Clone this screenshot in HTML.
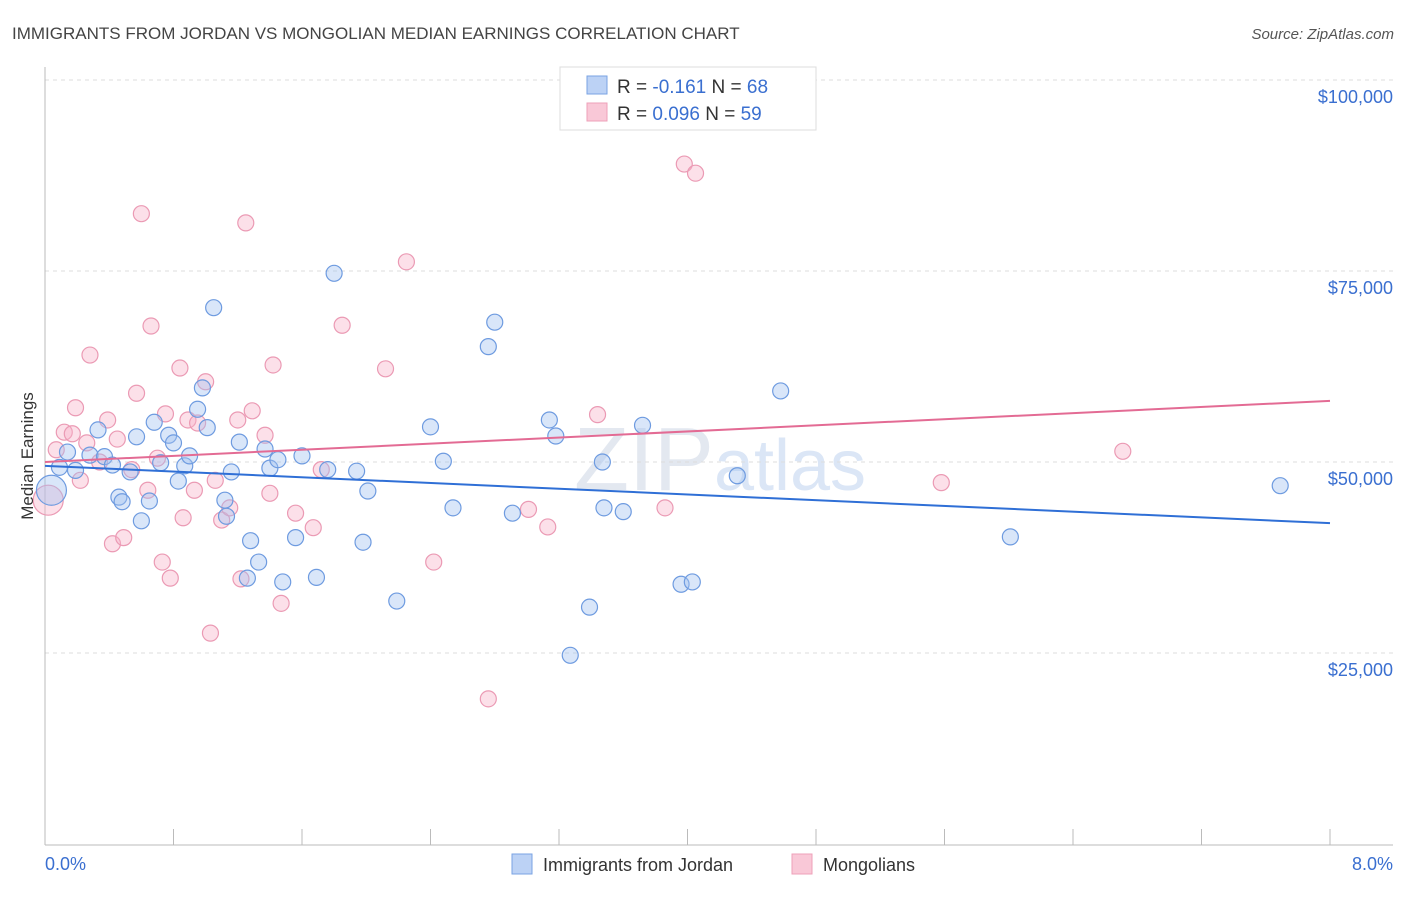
<!DOCTYPE html>
<html><head><meta charset="utf-8"><style>
body{margin:0;background:#fff;font-family:"Liberation Sans",sans-serif;}
svg text{font-family:"Liberation Sans",sans-serif;}
</style></head><body>
<svg id="chart" width="1406" height="892" xmlns="http://www.w3.org/2000/svg">
<text x="12" y="39" font-size="17" fill="#444">IMMIGRANTS FROM JORDAN VS MONGOLIAN MEDIAN EARNINGS CORRELATION CHART</text>
<text x="1394" y="39" font-size="15" fill="#555" text-anchor="end" font-style="italic">Source: ZipAtlas.com</text>
<text x="720" y="490" font-size="90" fill="#e3e8f0" text-anchor="middle" font-family="Liberation Serif">ZIP<tspan fill="#dbe6f6" font-family="Liberation Sans" font-size="72">atlas</tspan></text>
<g id="grid"></g>
<g id="axes"></g>
<g id="marks"></g>
<text transform="translate(33,456) rotate(-90)" font-size="17" fill="#333" text-anchor="middle">Median Earnings</text>
<text x="45" y="870" font-size="18" fill="#3a6fd0">0.0%</text>
<text x="1393" y="870" font-size="18" fill="#3a6fd0" text-anchor="end">8.0%</text>
<g>
<rect x="560" y="67" width="256" height="63" fill="#fff" stroke="#ddd"/>
<rect x="587" y="76" width="20" height="18" fill="#bcd2f5" stroke="#7aa3e3"/>
<rect x="587" y="103" width="20" height="18" fill="#f9c8d7" stroke="#eea0b9"/>
<text x="617" y="93" font-size="19" fill="#333">R = <tspan fill="#3a6fd0">-0.161</tspan>   N = <tspan fill="#3a6fd0">68</tspan></text>
<text x="617" y="120" font-size="19" fill="#333">R = <tspan fill="#3a6fd0">0.096</tspan>   N = <tspan fill="#3a6fd0">59</tspan></text>
</g>
<g>
<rect x="512" y="854" width="20" height="20" fill="#bcd2f5" stroke="#7aa3e3"/>
<text x="543" y="871" font-size="18" fill="#333">Immigrants from Jordan</text>
<rect x="792" y="854" width="20" height="20" fill="#f9c8d7" stroke="#eea0b9"/>
<text x="823" y="871" font-size="18" fill="#333">Mongolians</text>
</g>
</svg>
<script>
const yTicks=[25000,50000,75000,100000];
const yTickLabels=["$25,000","$50,000","$75,000","$100,000"];
const xTicks=[0,0.8,1.6,2.4,3.2,4.0,4.8,5.6,6.4,7.2,8.0];
const jordanX=[0.04,0.09,0.14,0.19,0.28,0.33,0.37,0.42,0.46,0.48,0.53,0.57,0.60,0.65,0.68,0.72,0.77,0.80,0.83,0.87,0.90,0.95,0.98,1.01,1.05,1.12,1.13,1.16,1.21,1.26,1.28,1.33,1.37,1.40,1.45,1.48,1.56,1.60,1.69,1.76,1.80,1.94,1.98,2.01,2.19,2.40,2.48,2.54,2.76,2.80,2.91,3.14,3.18,3.27,3.39,3.47,3.48,3.60,3.72,3.96,4.03,4.31,4.58,6.01,7.69];
const jordanY=[46.3,49.3,51.3,48.9,50.9,54.2,50.7,49.6,45.4,44.8,48.7,53.3,42.3,44.9,55.2,49.9,53.5,52.5,47.5,49.5,50.8,56.9,59.7,54.5,70.2,45.0,42.9,48.7,52.6,34.8,39.7,36.9,51.7,49.2,50.3,34.3,40.1,50.8,34.9,49.0,74.7,48.8,39.5,46.2,31.8,54.6,50.1,44.0,65.1,68.3,43.3,55.5,53.4,24.7,31.0,50.0,44.0,43.5,54.8,34.0,34.3,48.2,59.3,40.2,46.9];
const mongX=[0.02,0.07,0.12,0.17,0.19,0.22,0.26,0.28,0.34,0.39,0.42,0.45,0.49,0.54,0.57,0.60,0.64,0.66,0.70,0.73,0.75,0.78,0.84,0.86,0.89,0.93,0.95,1.00,1.03,1.06,1.10,1.15,1.20,1.22,1.25,1.29,1.37,1.40,1.42,1.47,1.56,1.67,1.72,1.85,2.12,2.25,2.42,2.76,3.01,3.13,3.44,3.86,3.98,4.05,5.58,6.71];
const mongY=[45.0,51.6,53.9,53.7,57.1,47.6,52.5,64.0,50.0,55.5,39.3,53.0,40.1,49.0,59.0,82.5,46.3,67.8,50.5,36.9,56.3,34.8,62.3,42.7,55.5,46.3,55.1,60.5,27.6,47.6,42.4,44.0,55.5,34.7,81.3,56.7,53.5,45.9,62.7,31.5,43.3,41.4,49.0,67.9,62.2,76.2,36.9,19.0,43.8,41.5,56.2,44.0,89.0,87.8,47.3,51.4];
const jordanTrend=[49.5,42.0];
const mongTrend=[50.0,58.0];
const X0=45,X1=1330,Y0=844,YPER=191/25000;
function sx(v){return X0+(X1-X0)*v/8;}
function sy(v){return Y0-v*YPER;}
const NS="http://www.w3.org/2000/svg";
function mk(tag,attrs,parent){const e=document.createElementNS(NS,tag);for(const k in attrs)e.setAttribute(k,attrs[k]);parent.appendChild(e);return e;}
const grid=document.getElementById('grid'),axes=document.getElementById('axes'),marks=document.getElementById('marks');
yTicks.forEach((t,i)=>{
 const l=mk('line',{x1:45,x2:1393,y1:sy(t),y2:sy(t),stroke:'#ddd','stroke-dasharray':'4,4'},grid);
 
 
 const tx=mk('text',{x:1393,y:sy(t)+23,'font-size':18,fill:'#3a6fd0','text-anchor':'end'},grid);
 tx.textContent=yTickLabels[i];
 
 
});
const tg=mk('line',{x1:45,x2:1393,y1:80,y2:80,stroke:'#ddd','stroke-dasharray':'4,4'},grid);


const ya=mk('line',{x1:45,x2:45,y1:67,y2:845,stroke:'#bbb'},axes);


const xa=mk('line',{x1:45,x2:1393,y1:845,y2:845,stroke:'#bbb'},axes);


xTicks.forEach(t=>{
 const l=mk('line',{x1:sx(t),x2:sx(t),y1:829,y2:845,stroke:'#bbb'},axes);
 
 
});
function dots(xs,ys,fill,stroke,name,bigIdx){
 xs.forEach((x,i)=>{
  const c=mk('circle',{cx:sx(x),cy:sy(ys[i]*1000),r:i===bigIdx?15:8,fill:fill,stroke:stroke,'stroke-width':1.2},marks);
  
  
 });
}
dots(mongX,mongY,'rgba(247,178,200,0.4)','#eb9ab4','mongolians-point',0);
dots(jordanX,jordanY,'rgba(160,192,240,0.4)','#6e9be0','jordan-point',0);
const l1=mk('line',{x1:sx(0),x2:sx(8),y1:sy(jordanTrend[0]*1000),y2:sy(jordanTrend[1]*1000),stroke:'#2f6fd6','stroke-width':2},marks);


const l2=mk('line',{x1:sx(0),x2:sx(8),y1:sy(mongTrend[0]*1000),y2:sy(mongTrend[1]*1000),stroke:'#e36b94','stroke-width':2},marks);


</script>
</body></html>
